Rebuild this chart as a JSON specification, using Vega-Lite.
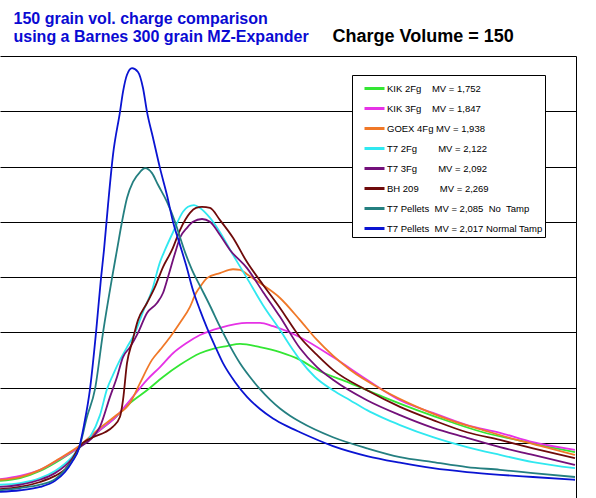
{
  "$schema": "https://vega.github.io/schema/vega-lite/v6.json",
  "width": 576,
  "height": 442,
  "autosize": {"type": "none"},
  "padding": {"left": 0, "top": 56, "right": 20, "bottom": 0},
  "background": "white",
  "config": {"view": {"stroke": null}, "font": "Liberation Sans"},
  "data": {
    "values": [
      {"s": "k2", "t": 0, "p": 0.31}, {"s": "k2", "t": 20, "p": 0.36}, {"s": "k2", "t": 40, "p": 0.49}, {"s": "k2", "t": 60, "p": 0.69},
      {"s": "k2", "t": 79, "p": 0.92}, {"s": "k2", "t": 100, "p": 1.23}, {"s": "k2", "t": 115, "p": 1.45}, {"s": "k2", "t": 130, "p": 1.72},
      {"s": "k2", "t": 147, "p": 1.95}, {"s": "k2", "t": 163, "p": 2.19}, {"s": "k2", "t": 180, "p": 2.41}, {"s": "k2", "t": 200, "p": 2.62},
      {"s": "k2", "t": 213, "p": 2.70}, {"s": "k2", "t": 227, "p": 2.75}, {"s": "k2", "t": 240, "p": 2.79}, {"s": "k2", "t": 260, "p": 2.73},
      {"s": "k2", "t": 280, "p": 2.64}, {"s": "k2", "t": 300, "p": 2.50}, {"s": "k2", "t": 317, "p": 2.32}, {"s": "k2", "t": 350, "p": 2.08},
      {"s": "k2", "t": 383, "p": 1.83}, {"s": "k2", "t": 417, "p": 1.59}, {"s": "k2", "t": 450, "p": 1.38}, {"s": "k2", "t": 483, "p": 1.19},
      {"s": "k2", "t": 517, "p": 1.05}, {"s": "k2", "t": 550, "p": 0.92}, {"s": "k2", "t": 575, "p": 0.83},

      {"s": "k3", "t": 0, "p": 0.34}, {"s": "k3", "t": 20, "p": 0.40}, {"s": "k3", "t": 40, "p": 0.51}, {"s": "k3", "t": 60, "p": 0.71},
      {"s": "k3", "t": 79, "p": 0.92}, {"s": "k3", "t": 100, "p": 1.23}, {"s": "k3", "t": 115, "p": 1.45}, {"s": "k3", "t": 130, "p": 1.77},
      {"s": "k3", "t": 147, "p": 2.14}, {"s": "k3", "t": 160, "p": 2.37}, {"s": "k3", "t": 173, "p": 2.62}, {"s": "k3", "t": 187, "p": 2.81},
      {"s": "k3", "t": 200, "p": 2.95}, {"s": "k3", "t": 220, "p": 3.08}, {"s": "k3", "t": 247, "p": 3.17}, {"s": "k3", "t": 260, "p": 3.17},
      {"s": "k3", "t": 273, "p": 3.11}, {"s": "k3", "t": 300, "p": 2.91}, {"s": "k3", "t": 333, "p": 2.55}, {"s": "k3", "t": 367, "p": 2.14},
      {"s": "k3", "t": 400, "p": 1.77}, {"s": "k3", "t": 433, "p": 1.54}, {"s": "k3", "t": 467, "p": 1.32}, {"s": "k3", "t": 500, "p": 1.18},
      {"s": "k3", "t": 533, "p": 1.01}, {"s": "k3", "t": 575, "p": 0.87},

      {"s": "g4", "t": 0, "p": 0.33}, {"s": "g4", "t": 20, "p": 0.38}, {"s": "g4", "t": 40, "p": 0.51}, {"s": "g4", "t": 60, "p": 0.72},
      {"s": "g4", "t": 79, "p": 0.94}, {"s": "g4", "t": 100, "p": 1.27}, {"s": "g4", "t": 115, "p": 1.48}, {"s": "g4", "t": 130, "p": 1.72},
      {"s": "g4", "t": 140, "p": 2.08}, {"s": "g4", "t": 152, "p": 2.50}, {"s": "g4", "t": 160, "p": 2.68}, {"s": "g4", "t": 170, "p": 2.91},
      {"s": "g4", "t": 180, "p": 3.17}, {"s": "g4", "t": 190, "p": 3.46}, {"s": "g4", "t": 196, "p": 3.71}, {"s": "g4", "t": 200, "p": 3.82},
      {"s": "g4", "t": 207, "p": 3.98}, {"s": "g4", "t": 220, "p": 4.07}, {"s": "g4", "t": 233, "p": 4.14}, {"s": "g4", "t": 240, "p": 4.13},
      {"s": "g4", "t": 247, "p": 4.05}, {"s": "g4", "t": 260, "p": 3.89}, {"s": "g4", "t": 280, "p": 3.62}, {"s": "g4", "t": 300, "p": 3.22},
      {"s": "g4", "t": 317, "p": 2.86}, {"s": "g4", "t": 350, "p": 2.32}, {"s": "g4", "t": 383, "p": 1.95}, {"s": "g4", "t": 417, "p": 1.65},
      {"s": "g4", "t": 450, "p": 1.41}, {"s": "g4", "t": 483, "p": 1.23}, {"s": "g4", "t": 517, "p": 1.05}, {"s": "g4", "t": 550, "p": 0.90},
      {"s": "g4", "t": 575, "p": 0.78},

      {"s": "t2", "t": 0, "p": 0.24}, {"s": "t2", "t": 20, "p": 0.27}, {"s": "t2", "t": 40, "p": 0.36}, {"s": "t2", "t": 55, "p": 0.49},
      {"s": "t2", "t": 65, "p": 0.62}, {"s": "t2", "t": 72, "p": 0.74}, {"s": "t2", "t": 79, "p": 0.90}, {"s": "t2", "t": 90, "p": 1.10},
      {"s": "t2", "t": 100, "p": 1.50}, {"s": "t2", "t": 107, "p": 1.97}, {"s": "t2", "t": 113, "p": 2.23}, {"s": "t2", "t": 120, "p": 2.50},
      {"s": "t2", "t": 127, "p": 2.73}, {"s": "t2", "t": 135, "p": 2.99}, {"s": "t2", "t": 143, "p": 3.37}, {"s": "t2", "t": 152, "p": 3.76},
      {"s": "t2", "t": 160, "p": 4.27}, {"s": "t2", "t": 165, "p": 4.49}, {"s": "t2", "t": 173, "p": 4.81}, {"s": "t2", "t": 183, "p": 5.18},
      {"s": "t2", "t": 188, "p": 5.27}, {"s": "t2", "t": 194, "p": 5.30}, {"s": "t2", "t": 200, "p": 5.25}, {"s": "t2", "t": 210, "p": 5.07},
      {"s": "t2", "t": 220, "p": 4.81}, {"s": "t2", "t": 233, "p": 4.40}, {"s": "t2", "t": 247, "p": 3.98}, {"s": "t2", "t": 263, "p": 3.49},
      {"s": "t2", "t": 280, "p": 3.04}, {"s": "t2", "t": 293, "p": 2.68}, {"s": "t2", "t": 300, "p": 2.50}, {"s": "t2", "t": 315, "p": 2.19},
      {"s": "t2", "t": 333, "p": 1.95}, {"s": "t2", "t": 350, "p": 1.77}, {"s": "t2", "t": 367, "p": 1.59}, {"s": "t2", "t": 383, "p": 1.45},
      {"s": "t2", "t": 400, "p": 1.32}, {"s": "t2", "t": 433, "p": 1.10}, {"s": "t2", "t": 467, "p": 0.92}, {"s": "t2", "t": 500, "p": 0.78},
      {"s": "t2", "t": 533, "p": 0.65}, {"s": "t2", "t": 575, "p": 0.54},

      {"s": "t3", "t": 0, "p": 0.20}, {"s": "t3", "t": 20, "p": 0.24}, {"s": "t3", "t": 40, "p": 0.33}, {"s": "t3", "t": 55, "p": 0.45},
      {"s": "t3", "t": 65, "p": 0.58}, {"s": "t3", "t": 72, "p": 0.71}, {"s": "t3", "t": 79, "p": 0.90}, {"s": "t3", "t": 90, "p": 1.05},
      {"s": "t3", "t": 100, "p": 1.29}, {"s": "t3", "t": 110, "p": 1.83}, {"s": "t3", "t": 117, "p": 2.19}, {"s": "t3", "t": 123, "p": 2.55},
      {"s": "t3", "t": 130, "p": 2.73}, {"s": "t3", "t": 138, "p": 2.99}, {"s": "t3", "t": 147, "p": 3.35}, {"s": "t3", "t": 157, "p": 3.53},
      {"s": "t3", "t": 163, "p": 3.71}, {"s": "t3", "t": 168, "p": 4.00}, {"s": "t3", "t": 175, "p": 4.43}, {"s": "t3", "t": 180, "p": 4.71},
      {"s": "t3", "t": 187, "p": 4.89}, {"s": "t3", "t": 193, "p": 5.00}, {"s": "t3", "t": 202, "p": 5.05}, {"s": "t3", "t": 210, "p": 5.00},
      {"s": "t3", "t": 220, "p": 4.76}, {"s": "t3", "t": 230, "p": 4.49}, {"s": "t3", "t": 247, "p": 4.16}, {"s": "t3", "t": 263, "p": 3.73},
      {"s": "t3", "t": 280, "p": 3.28}, {"s": "t3", "t": 300, "p": 2.71}, {"s": "t3", "t": 317, "p": 2.37}, {"s": "t3", "t": 333, "p": 2.14},
      {"s": "t3", "t": 367, "p": 1.77}, {"s": "t3", "t": 400, "p": 1.50}, {"s": "t3", "t": 433, "p": 1.27}, {"s": "t3", "t": 467, "p": 1.09},
      {"s": "t3", "t": 500, "p": 0.92}, {"s": "t3", "t": 533, "p": 0.78}, {"s": "t3", "t": 575, "p": 0.60},

      {"s": "bh", "t": 0, "p": 0.16}, {"s": "bh", "t": 20, "p": 0.20}, {"s": "bh", "t": 40, "p": 0.29}, {"s": "bh", "t": 55, "p": 0.40},
      {"s": "bh", "t": 65, "p": 0.52}, {"s": "bh", "t": 72, "p": 0.69}, {"s": "bh", "t": 79, "p": 0.92}, {"s": "bh", "t": 93, "p": 1.10},
      {"s": "bh", "t": 105, "p": 1.19}, {"s": "bh", "t": 113, "p": 1.29}, {"s": "bh", "t": 120, "p": 1.47}, {"s": "bh", "t": 123, "p": 1.77},
      {"s": "bh", "t": 127, "p": 2.44}, {"s": "bh", "t": 132, "p": 2.81}, {"s": "bh", "t": 138, "p": 3.22}, {"s": "bh", "t": 147, "p": 3.53},
      {"s": "bh", "t": 155, "p": 3.82}, {"s": "bh", "t": 163, "p": 4.18}, {"s": "bh", "t": 172, "p": 4.49}, {"s": "bh", "t": 180, "p": 4.85},
      {"s": "bh", "t": 190, "p": 5.16}, {"s": "bh", "t": 196, "p": 5.25}, {"s": "bh", "t": 202, "p": 5.27}, {"s": "bh", "t": 210, "p": 5.25},
      {"s": "bh", "t": 220, "p": 5.03}, {"s": "bh", "t": 233, "p": 4.71}, {"s": "bh", "t": 247, "p": 4.27}, {"s": "bh", "t": 263, "p": 3.86},
      {"s": "bh", "t": 280, "p": 3.44}, {"s": "bh", "t": 300, "p": 2.91}, {"s": "bh", "t": 317, "p": 2.59}, {"s": "bh", "t": 333, "p": 2.32},
      {"s": "bh", "t": 367, "p": 1.95}, {"s": "bh", "t": 400, "p": 1.65}, {"s": "bh", "t": 433, "p": 1.41}, {"s": "bh", "t": 467, "p": 1.19},
      {"s": "bh", "t": 500, "p": 1.05}, {"s": "bh", "t": 533, "p": 0.90}, {"s": "bh", "t": 575, "p": 0.72},

      {"s": "pn", "t": 0, "p": 0.14}, {"s": "pn", "t": 20, "p": 0.18}, {"s": "pn", "t": 40, "p": 0.24}, {"s": "pn", "t": 55, "p": 0.34},
      {"s": "pn", "t": 65, "p": 0.51}, {"s": "pn", "t": 72, "p": 0.67}, {"s": "pn", "t": 79, "p": 0.90}, {"s": "pn", "t": 87, "p": 1.47},
      {"s": "pn", "t": 95, "p": 1.97}, {"s": "pn", "t": 103, "p": 2.99}, {"s": "pn", "t": 112, "p": 3.98}, {"s": "pn", "t": 117, "p": 4.49},
      {"s": "pn", "t": 122, "p": 5.00}, {"s": "pn", "t": 127, "p": 5.43}, {"s": "pn", "t": 133, "p": 5.72}, {"s": "pn", "t": 140, "p": 5.90},
      {"s": "pn", "t": 145, "p": 5.97}, {"s": "pn", "t": 152, "p": 5.88}, {"s": "pn", "t": 158, "p": 5.67}, {"s": "pn", "t": 167, "p": 5.36},
      {"s": "pn", "t": 175, "p": 5.00}, {"s": "pn", "t": 180, "p": 4.72}, {"s": "pn", "t": 185, "p": 4.45}, {"s": "pn", "t": 192, "p": 4.13},
      {"s": "pn", "t": 200, "p": 3.84}, {"s": "pn", "t": 210, "p": 3.48}, {"s": "pn", "t": 220, "p": 3.10}, {"s": "pn", "t": 230, "p": 2.75},
      {"s": "pn", "t": 240, "p": 2.44}, {"s": "pn", "t": 250, "p": 2.19}, {"s": "pn", "t": 260, "p": 1.97}, {"s": "pn", "t": 270, "p": 1.78},
      {"s": "pn", "t": 280, "p": 1.62}, {"s": "pn", "t": 290, "p": 1.49}, {"s": "pn", "t": 300, "p": 1.38}, {"s": "pn", "t": 333, "p": 1.10},
      {"s": "pn", "t": 367, "p": 0.90}, {"s": "pn", "t": 400, "p": 0.74},
      {"s": "pn", "t": 433, "p": 0.65}, {"s": "pn", "t": 467, "p": 0.56}, {"s": "pn", "t": 500, "p": 0.51}, {"s": "pn", "t": 533, "p": 0.45},
      {"s": "pn", "t": 575, "p": 0.38},

      {"s": "pt", "t": 0, "p": 0.11}, {"s": "pt", "t": 20, "p": 0.14}, {"s": "pt", "t": 40, "p": 0.20}, {"s": "pt", "t": 55, "p": 0.31},
      {"s": "pt", "t": 65, "p": 0.47}, {"s": "pt", "t": 72, "p": 0.65}, {"s": "pt", "t": 79, "p": 0.90}, {"s": "pt", "t": 84, "p": 1.32},
      {"s": "pt", "t": 90, "p": 1.97}, {"s": "pt", "t": 96, "p": 2.99}, {"s": "pt", "t": 101, "p": 3.98}, {"s": "pt", "t": 104, "p": 4.49},
      {"s": "pt", "t": 108, "p": 5.30}, {"s": "pt", "t": 113, "p": 6.21}, {"s": "pt", "t": 120, "p": 6.99}, {"s": "pt", "t": 123, "p": 7.35},
      {"s": "pt", "t": 127, "p": 7.66}, {"s": "pt", "t": 132, "p": 7.78}, {"s": "pt", "t": 138, "p": 7.71}, {"s": "pt", "t": 143, "p": 7.42},
      {"s": "pt", "t": 147, "p": 6.99}, {"s": "pt", "t": 153, "p": 6.52}, {"s": "pt", "t": 160, "p": 5.97}, {"s": "pt", "t": 167, "p": 5.48},
      {"s": "pt", "t": 173, "p": 5.00}, {"s": "pt", "t": 180, "p": 4.58}, {"s": "pt", "t": 186, "p": 4.22}, {"s": "pt", "t": 193, "p": 3.76},
      {"s": "pt", "t": 200, "p": 3.40}, {"s": "pt", "t": 207, "p": 3.08}, {"s": "pt", "t": 215, "p": 2.75}, {"s": "pt", "t": 223, "p": 2.44},
      {"s": "pt", "t": 235, "p": 2.10}, {"s": "pt", "t": 247, "p": 1.83}, {"s": "pt", "t": 260, "p": 1.61}, {"s": "pt", "t": 273, "p": 1.44},
      {"s": "pt", "t": 287, "p": 1.30}, {"s": "pt", "t": 300, "p": 1.19}, {"s": "pt", "t": 333, "p": 0.94}, {"s": "pt", "t": 367, "p": 0.76},
      {"s": "pt", "t": 400, "p": 0.64}, {"s": "pt", "t": 433, "p": 0.54}, {"s": "pt", "t": 467, "p": 0.47}, {"s": "pt", "t": 500, "p": 0.42},
      {"s": "pt", "t": 533, "p": 0.38}, {"s": "pt", "t": 575, "p": 0.33}
    ]
  },
  "mark": {"type": "line", "strokeWidth": 1.8, "interpolate": "monotone"},
  "encoding": {
    "x": {
      "field": "t",
      "type": "quantitative",
      "scale": {"domain": [0, 576], "nice": false, "zero": false},
      "axis": {
        "orient": "top",
        "title": ["150 grain vol. charge comparison", "using a Barnes 300 grain MZ-Expander"],
        "titleX": 13,
        "titleY": -33,
        "titleAlign": "left",
        "titleBaseline": "alphabetic",
        "titleAngle": 0,
        "titleColor": "#0a0ad2",
        "titleFont": "Liberation Sans",
        "titleFontSize": 16,
        "titleFontWeight": "bold",
        "titleLineHeight": 18,
        "labels": false,
        "ticks": false,
        "domain": false,
        "grid": false
      }
    },
    "y": {
      "field": "p",
      "type": "quantitative",
      "scale": {"domain": [0, 8], "nice": false},
      "axis": {
        "orient": "right",
        "values": [1, 2, 3, 4, 5, 6, 7, 8],
        "grid": true,
        "gridColor": "black",
        "gridOpacity": 1,
        "gridWidth": 1,
        "labels": false,
        "ticks": false,
        "domain": true,
        "domainColor": "black",
        "domainWidth": 1,
        "title": "Charge Volume = 150",
        "titleX": -244,
        "titleY": -15,
        "titleAngle": 0,
        "titleAlign": "left",
        "titleBaseline": "alphabetic",
        "titleColor": "black",
        "titleFont": "Liberation Sans",
        "titleFontSize": 18,
        "titleFontWeight": "bold"
      }
    },
    "color": {
      "field": "s",
      "type": "nominal",
      "scale": {
        "domain": ["k2", "k3", "g4", "t2", "t3", "bh", "pn", "pt"],
        "range": ["#33e633", "#e632e6", "#f07828", "#30e8f0", "#73107a", "#6e0a0a", "#247f80", "#0a14d2"]
      },
      "legend": {
        "title": null,
        "orient": "none",
        "legendX": 352,
        "legendY": 19,
        "direction": "vertical",
        "strokeColor": "black",
        "fillColor": "white",
        "padding": 2,
        "symbolType": "stroke",
        "symbolSize": 400,
        "symbolStrokeWidth": 3,
        "symbolOffset": 9,
        "rowPadding": 2,
        "labelOffset": 1,
        "labelFont": "Liberation Sans",
        "labelFontSize": 9.5,
        "labelColor": "black",
        "labelLimit": 300,
        "labelExpr": "datum.label == 'k2' ? 'KIK 2Fg\u00a0\u00a0\u00a0\u00a0MV = 1,752' : datum.label == 'k3' ? 'KIK 3Fg\u00a0\u00a0\u00a0\u00a0MV = 1,847' : datum.label == 'g4' ? 'GOEX 4Fg\u00a0MV = 1,938' : datum.label == 't2' ? 'T7 2Fg\u00a0\u00a0\u00a0\u00a0\u00a0\u00a0\u00a0\u00a0MV = 2,122' : datum.label == 't3' ? 'T7 3Fg\u00a0\u00a0\u00a0\u00a0\u00a0\u00a0\u00a0\u00a0MV = 2,092' : datum.label == 'bh' ? 'BH 209\u00a0\u00a0\u00a0\u00a0\u00a0\u00a0\u00a0\u00a0MV = 2,269' : datum.label == 'pn' ? 'T7 Pellets\u00a0\u00a0MV = 2,085\u00a0\u00a0No\u00a0\u00a0Tamp' : 'T7 Pellets\u00a0\u00a0MV = 2,017 Normal Tamp\u00a0\u00a0\u00a0\u00a0\u00a0\u00a0\u00a0'"
      }
    }
  }
}
